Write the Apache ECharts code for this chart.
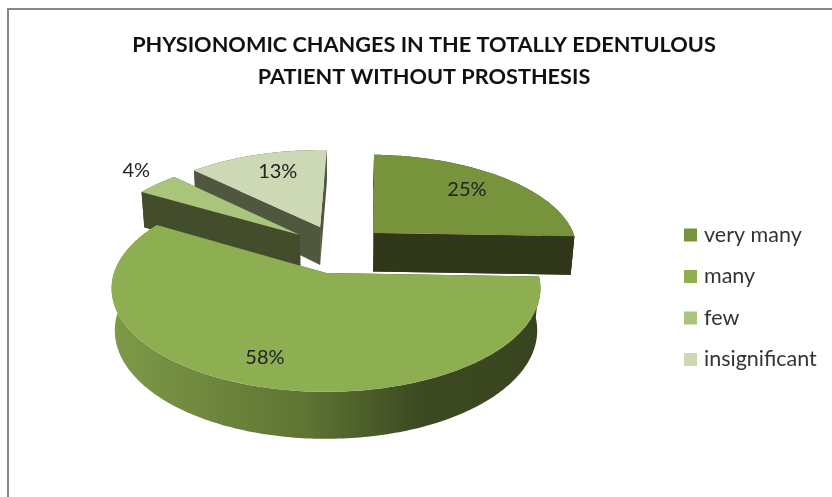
<!DOCTYPE html>
<html>
<head>
<meta charset="utf-8">
<style>html,body{margin:0;padding:0;background:#fff}#c{width:832px;height:497px}</style>
<script src="https://cdn.jsdelivr.net/npm/echarts@6/dist/echarts.min.js"></script>
</head>
<body>
<div id="c"></div>
<script>
var titleLines = ['PHYSIONOMIC CHANGES IN THE TOTALLY EDENTULOUS', 'PATIENT WITHOUT PROSTHESIS'];
var categories = ['very many', 'many', 'few', 'insignificant'];
var values = [25, 58, 4, 13];

// styling and layout of the 3D look, kept apart from the data
var topColors = ['#77933C', '#8EAE52', '#A9C47B', '#CCD9B4'];
var faceColors = ['#31381A', '#3A4720', '#434D2C', '#51573F'];
var wallColors = ['#3A4420', null, '#434D2C', '#51573F'];
var paintOrder = [3, 4, 2, 1];
var explodeX = [0.24, 0.0, -0.13, -0.03];
var explodeZ = [0.421, 0.0, 0.399, 0.489];
var labelRadius = [0.72, 0.76, 1.2, 0.76];
var labelNudgeX = [-2, -10, 5, 7];
var labelNudgeY = [-2, 2, -4, 1];

var CX = 326, CY = 273, RX = 212, RY = 101, PERSP = 0.15, START = 2 * Math.PI / 180;
function project(X, Z) {
  var w = 1 + PERSP * Z;
  return [CX + RX * X / w, CY - RY * Z / w];
}
function depth(Z) { return 41 - 6 * Z; }
function lowered(X, Z) {
  var p = project(X, Z);
  return [CX + (p[0] - CX) * 0.985, p[1] + depth(Z)];
}
function arcPoints(i, a0, a1, fn) {
  var pts = [], n = Math.max(2, Math.ceil(Math.abs(a1 - a0) * 60));
  for (var k = 0; k <= n; k++) {
    var a = a0 + (a1 - a0) * k / n;
    pts.push(fn(explodeX[i] + Math.sin(a), explodeZ[i] + Math.cos(a)));
  }
  return pts;
}
function polygon(points, fill) {
  return { type: 'polygon', shape: { points: points }, style: { fill: fill, stroke: null }, silent: true };
}
function cutFace(i, a) {
  var x0 = explodeX[i], z0 = explodeZ[i];
  var x1 = x0 + Math.sin(a), z1 = z0 + Math.cos(a);
  return polygon([project(x0, z0), project(x1, z1), lowered(x1, z1), lowered(x0, z0)], faceColors[i]);
}
var total = values.reduce(function (s, v) { return s + v; }, 0);
var mainWall = {
  type: 'linear', x: 0, y: 0, x2: 1, y2: 0,
  colorStops: [
    { offset: 0, color: '#7E9A48' },
    { offset: 0.45, color: '#5E7533' },
    { offset: 0.72, color: '#3C4A21' },
    { offset: 1, color: '#38441F' }
  ]
};
function renderSlice(i) {
  return function (params, api) {
    var before = 0;
    for (var j = 0; j < i; j++) before += values[j];
    var value = api.value(0);
    var a0 = START + before / total * 2 * Math.PI;
    var a1 = START + (before + value) / total * 2 * Math.PI;
    var apex = project(explodeX[i], explodeZ[i]);
    var topArc = arcPoints(i, a0, a1, project);
    var lowArc = arcPoints(i, a0, a1, lowered);
    var children = [];
    children.push(cutFace(i, a0));
    children.push(cutFace(i, a1));
    children.push(polygon(topArc.concat(lowArc.slice().reverse()), wallColors[i] || mainWall));
    if (i === 0) children.push(cutFace(i, a1));
    children.push(polygon([apex].concat(topArc), topColors[i]));
    var mid = (a0 + a1) / 2, r = labelRadius[i];
    var lp = project(explodeX[i] + r * Math.sin(mid), explodeZ[i] + r * Math.cos(mid));
    children.push({
      type: 'text', silent: true,
      style: {
        x: lp[0] + labelNudgeX[i], y: lp[1] + labelNudgeY[i],
        text: Math.round(value / total * 100) + '%',
        fill: '#222', font: '20px Lato', align: 'center', verticalAlign: 'middle'
      }
    });
    return { type: 'group', children: children };
  };
}

var chart = echarts.init(document.getElementById('c'), null, { renderer: 'canvas' });
chart.setOption({
  animation: false,
  backgroundColor: '#fff',
  title: {
    text: titleLines.join('\n'),
    left: 419, top: 24, textAlign: 'center',
    textStyle: { fontFamily: 'Lato', fontWeight: 'bold', fontSize: 21.7, lineHeight: 32, color: '#111' }
  },
  legend: {
    orient: 'vertical', left: 684, top: 224, padding: 0,
    data: categories, icon: 'rect', itemWidth: 13, itemHeight: 13, itemGap: 19.5, selectedMode: false,
    textStyle: { fontFamily: 'Lato', fontSize: 21.5, color: '#333', padding: [0, 0, 0, 2] }
  },
  graphic: [{
    type: 'polyline', silent: true,
    shape: { points: [[8, 497], [8, 9], [832, 9]] },
    style: { stroke: '#868686', lineWidth: 2, fill: null }
  }],
  series: categories.map(function (name, i) {
    return {
      type: 'custom', name: name, coordinateSystem: 'none', z: paintOrder[i],
      silent: true, itemStyle: { color: topColors[i] },
      data: [[values[i]]], renderItem: renderSlice(i)
    };
  })
});
</script>
</body>
</html>
